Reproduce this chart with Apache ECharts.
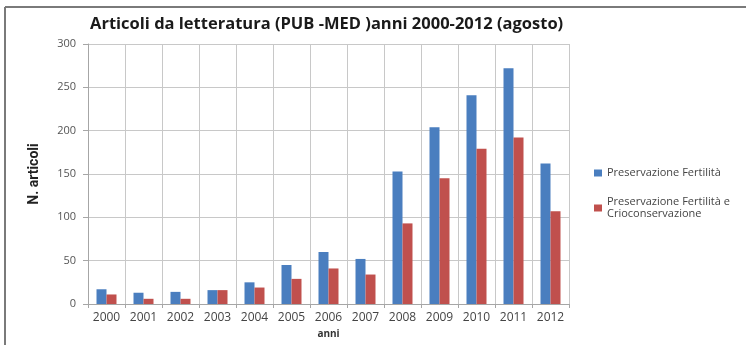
<!DOCTYPE html>
<html>
<head>
<meta charset="utf-8">
<script src="https://cdn.jsdelivr.net/npm/echarts@6/dist/echarts.min.js"></script>
<style>
  html, body { margin: 0; padding: 0; background: #fff; }
  #chart { width: 746px; height: 345px; }
</style>
</head>
<body>
<div id="chart"></div>
<script>
// Publication counts per year (PubMed), 2000 to August 2012
const years = ['2000','2001','2002','2003','2004','2005','2006','2007','2008','2009','2010','2011','2012'];
const fertilityPreservation = [17, 13, 14, 16, 25, 45, 60, 52, 153, 204, 241, 272, 162];
const fertilityCryo = [11, 6, 6, 16, 19, 29, 41, 34, 93, 145, 179, 192, 107];
const seriesNames = ['Preservazione Fertilità', 'Preservazione Fertilità e\nCrioconservazione'];

const chart = echarts.init(document.getElementById('chart'));
const labelFont = '"Open Sans", "DejaVu Sans", sans-serif';

chart.setOption({
  animation: false,
  backgroundColor: '#ffffff',
  title: {
    text: 'Articoli da letteratura (PUB -MED )anni 2000-2012 (agosto)',
    left: 85,
    top: 11,
    textStyle: { fontFamily: labelFont, fontWeight: 'bold', fontSize: 16.5, color: '#1a1a1a' }
  },
  graphic: [
    { type: 'line', shape: { x1: 5, y1: 7, x2: 746, y2: 7 }, style: { stroke: '#7a7a7a', lineWidth: 2 } },
    { type: 'line', shape: { x1: 5, y1: 7, x2: 5, y2: 345 }, style: { stroke: '#7a7a7a', lineWidth: 2 } }
  ],
  legend: {
    orient: 'vertical',
    left: 589,
    top: 162,
    itemWidth: 8,
    itemHeight: 7,
    itemGap: 17,
    icon: 'rect',
    textStyle: { fontFamily: labelFont, fontSize: 11, color: '#444', lineHeight: 12 },
    data: seriesNames
  },
  grid: { left: 88, top: 44, width: 481, height: 260, containLabel: false },
  xAxis: {
    type: 'category',
    data: years,
    name: 'anni',
    nameLocation: 'middle',
    nameGap: 25,
    nameTextStyle: { fontFamily: labelFont, fontWeight: 'bold', fontSize: 10, color: '#333' },
    axisLine: { lineStyle: { color: '#a6a6a6' } },
    axisTick: { show: true, length: 4, lineStyle: { color: '#a6a6a6' } },
    axisLabel: { fontFamily: labelFont, fontSize: 12, color: '#444', margin: 8 },
    splitLine: { show: true, lineStyle: { color: '#c8c8c8', width: 1 } }
  },
  yAxis: {
    type: 'value',
    min: 0,
    max: 300,
    interval: 50,
    name: 'N. articoli',
    nameLocation: 'middle',
    nameGap: 47,
    nameRotate: 90,
    nameTextStyle: { fontFamily: '"Liberation Sans Narrow", "Roboto", sans-serif', fontWeight: 'bold', fontSize: 14, color: '#222' },
    axisLine: { show: true, lineStyle: { color: '#a6a6a6' } },
    axisTick: { show: true, length: 5, lineStyle: { color: '#a6a6a6' } },
    axisLabel: { fontFamily: labelFont, fontSize: 11, color: '#555', margin: 12 },
    splitLine: { lineStyle: { color: '#c8c8c8', width: 1 } }
  },
  series: [
    {
      name: seriesNames[0],
      type: 'bar',
      data: fertilityPreservation,
      barWidth: 10,
      barGap: '0%',
      itemStyle: { color: '#4a7ebf' }
    },
    {
      name: seriesNames[1],
      type: 'bar',
      data: fertilityCryo,
      barWidth: 10,
      itemStyle: { color: '#c0504d' }
    }
  ]
});
</script>
</body>
</html>
